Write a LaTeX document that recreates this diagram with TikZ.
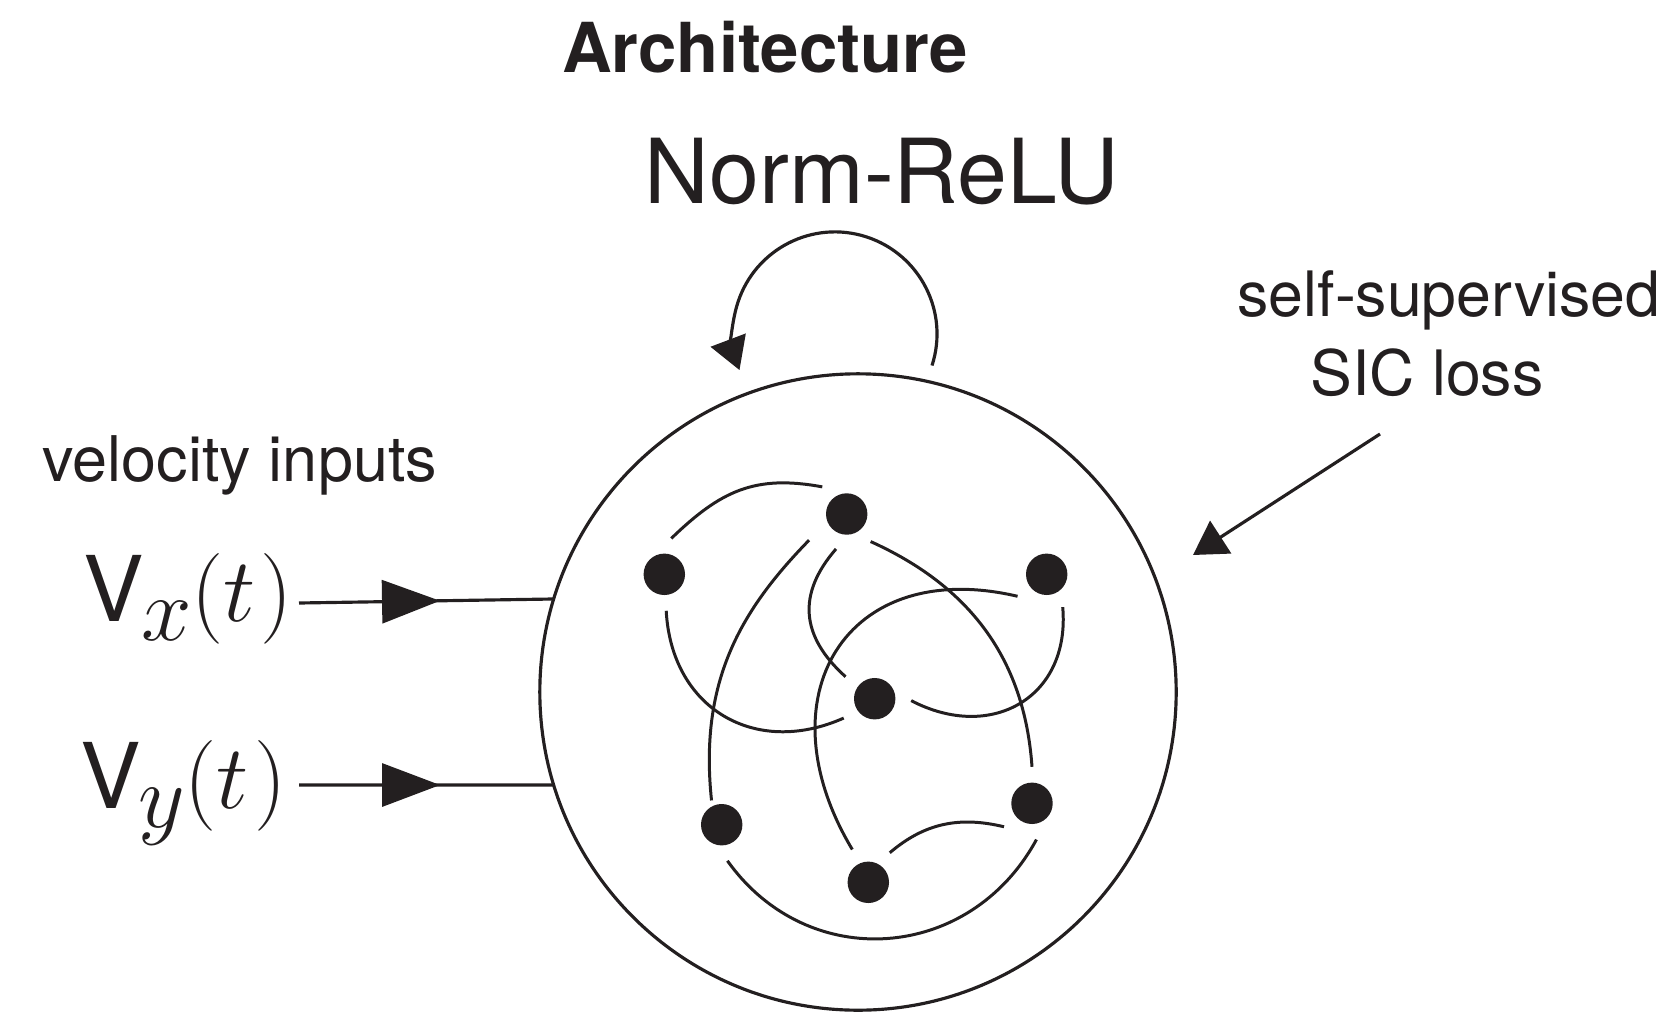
\RequirePackage{fix-cm}
\documentclass[tikz,border=0pt]{standalone}
\usepackage{fontspec}
\setmainfont{TeX Gyre Heros}
\usetikzlibrary{arrows.meta,decorations.markings}
\definecolor{ink}{RGB}{35,31,32}
\tikzstyle{network} = [circle, draw=ink, line width=0.9pt, minimum size=6.36cm, inner sep=0pt, outer sep=0pt]
\tikzstyle{unit} = [circle, fill=ink, minimum size=0.414cm, inner sep=0pt, outer sep=0.158cm]
\tikzstyle{link} = [draw=ink, line width=0.85pt]
\tikzstyle{inarrow} = [draw=ink, line width=0.9pt, postaction={decorate}, decoration={markings, mark=at position 1.41cm with {\arrow[ink]{Triangle[length=0.58cm,width=0.43cm]}}}]
\tikzstyle{lossarrow} = [draw=ink, line width=0.9pt, -{Triangle[length=0.33cm,width=0.385cm]}]
\tikzstyle{looparrow} = [draw=ink, line width=0.9pt, -{Triangle[length=0.32cm,width=0.37cm]}]
\tikzstyle{txt} = [text=ink, inner sep=0pt]
\newcommand{\velsig}[1]{V\kern-0.03cm\raisebox{-0.19cm}{$#1$}$(t\mkern1mu)$}
\begin{document}
\begin{tikzpicture}[x=0.01cm, y=0.01cm]
    \useasboundingbox (0,0) rectangle (1676,-1012);
    % labels
    \node[txt, anchor=base, font=\bfseries\fontsize{19.6}{23}\selectfont] (title) at (765,-72) {Architecture};
    \node[txt, anchor=base, font=\fontsize{25.5}{30}\selectfont] (act) at (882,-203) {Norm-ReLU};
    \node[txt, anchor=base west, font=\fontsize{17.9}{21}\selectfont] (inputs) at (42,-481) {velocity inputs};
    \node[txt, anchor=base west, font=\fontsize{25.8}{30}\selectfont] (vx) at (83,-621) {\velsig{x}};
    \node[txt, anchor=base west, font=\fontsize{25.8}{30}\selectfont] (vy) at (80,-808) {\velsig{y}};
    \node[txt, align=center, anchor=base, font=\fontsize{17.8}{22.2}\selectfont] (loss) at (1449,-395) {self-supervised\\SIC loss\hspace*{0.44cm}};
    % recurrent network
    \node[network] (net) at (858,-692) {};
    \node[unit] (ntl) at (664.3,-574.3) {};
    \node[unit] (ntop) at (846.7,-514) {};
    \node[unit] (ntr) at (1046.7,-574.3) {};
    \node[unit] (nc) at (874.7,-698.7) {};
    \node[unit] (nbl) at (721.7,-824.7) {};
    \node[unit] (nbr) at (1032,-803.3) {};
    \node[unit] (nbot) at (868.3,-882.3) {};
    \draw[link] (ntl.79.5) to[out=44, in=169.5, looseness=1.1] (ntop.132.6);
    \draw[link, shorten <=0.095cm, shorten >=-0.105cm] (ntop.212.3) to[out=225.7, in=96] (nbl.108.8);
    \draw[link] (ntop.253.3) to[out=229, in=138, looseness=1.2] (nc.143.9);
    \draw[link] (ntop.-49.5) to[out=-24.3, in=94] (nbr.90.6);
    \draw[link] (ntr.217) to[out=166.8, in=121, looseness=1.5] (nbot.116);
    \draw[link] (ntr.-64.3) to[out=-85, in=-27.6, looseness=1.3] (nc.-3.3);
    \draw[link] (ntl.-87.3) to[out=-87, in=204, looseness=1.2] (nc.212.2);
    \draw[link] (nbot.54.8) to[out=40.5, in=166.4] (nbr.220.5);
    \draw[link] (nbl.-81.2) to[out=-54.5, in=241.5, looseness=1.15] (nbr.-83.2);
    % velocity inputs
    \coordinate (vxs) at (299,-603);
    \coordinate (vys) at (299,-785);
    \draw[inarrow] (vxs) -- (net.163.7);
    \draw[inarrow] (vys) -- (net.197);
    % recurrence
    \coordinate (loopstart) at (932,-365.5);
    \draw[looparrow] (loopstart) arc[start angle=-18, end angle=200.7, radius=1.02cm];
    % loss
    \coordinate (lossstart) at (1380,-434);
    \coordinate (losstip) at (1193,-555);
    \draw[lossarrow] (lossstart) -- (losstip);
\end{tikzpicture}
\end{document}
